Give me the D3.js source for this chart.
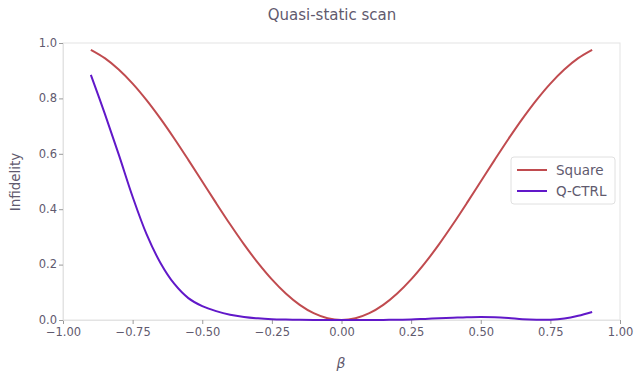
<!DOCTYPE html>
<html><head><meta charset="utf-8">
<script src="https://cdn.jsdelivr.net/npm/d3@7"></script>
<style>
body{margin:0;background:#fff;}
text{font-family:"DejaVu Sans",sans-serif;}
</style></head>
<body><svg id="c" width="640" height="380"></svg>
<script>
const beta = [-0.9,-0.85,-0.8,-0.75,-0.7,-0.65,-0.6,-0.55,-0.5,-0.45,-0.4,-0.35,-0.3,-0.25,-0.2,-0.15,-0.1,-0.05,0,
  0.05,0.1,0.15,0.2,0.25,0.3,0.35,0.4,0.45,0.5,0.55,0.6,0.65,0.7,0.75,0.8,0.85,0.9];
const square = [0.9755,0.9455,0.9045,0.8536,0.7939,0.727,0.6545,0.5782,0.5,0.4218,0.3455,0.273,0.2061,0.1464,0.0955,0.0545,0.0245,0.0062,0,
  0.0062,0.0245,0.0545,0.0955,0.1464,0.2061,0.273,0.3455,0.4218,0.5,0.5782,0.6545,0.727,0.7939,0.8536,0.9045,0.9455,0.9755];
const qctrl = [0.885,0.745,0.598,0.445,0.31,0.206,0.13,0.079,0.05,0.032,0.019,0.011,0.006,0.003,0.0015,0.0005,0.0001,0,0,
  0,0.0001,0.0004,0.001,0.002,0.004,0.006,0.008,0.010,0.011,0.010,0.007,0.003,0.001,0.0008,0.005,0.015,0.029];
const seriesNames = ["Square","Q-CTRL"];
const seriesColors = ["#c04b4f","#6118c9"];
const xTicks = [-1,-0.75,-0.5,-0.25,0,0.25,0.5,0.75,1];
const yTicks = [0,0.2,0.4,0.6,0.8,1.0];

const svg = d3.select("#c");
const L=63,R=620,T=43,B=320;
const x = d3.scaleLinear().domain([-1,1]).range([L,R]);
const y = d3.scaleLinear().domain([0,1]).range([B,T]);
const textCol = "#5f5a6e", gridCol="#e3e3e3", tickCol="#9a9a9a";

// frame
svg.append("rect").attr("x",L).attr("y",T).attr("width",R-L).attr("height",B-T)
  .attr("fill","none").attr("stroke",gridCol).attr("stroke-width",1);

const xa = svg.append("g").attr("transform",`translate(0,${B})`)
  .call(d3.axisBottom(x).tickValues(xTicks).tickFormat(d3.format(".2f")).tickSize(4).tickPadding(3.5));
const ya = svg.append("g").attr("transform",`translate(${L},0)`)
  .call(d3.axisLeft(y).tickValues(yTicks).tickFormat(d3.format(".1f")).tickSize(4).tickPadding(2));
[xa,ya].forEach(a=>{
  a.select(".domain").attr("stroke",gridCol);
  a.selectAll(".tick line").attr("stroke",tickCol);
  a.selectAll(".tick text").attr("fill",textCol).attr("font-size",11.5);
});
ya.selectAll(".tick text").attr("dy","0.28em");

const data = [square,qctrl];
const line = d3.line().x((d,i)=>x(beta[i])).y(d=>y(d)).curve(d3.curveCatmullRom.alpha(0.5));
data.forEach((s,k)=>{
  svg.append("path").datum(s).attr("d",line).attr("fill","none")
    .attr("stroke",seriesColors[k]).attr("stroke-width",2);
});

svg.append("text").attr("x",332).attr("y",20).attr("text-anchor","middle")
  .attr("font-size",15).attr("fill",textCol).text("Quasi-static scan");
svg.append("text").attr("transform","translate(20,182) rotate(-90)").attr("text-anchor","middle")
  .attr("font-size",13.5).attr("fill",textCol).text("Infidelity");
svg.append("text").attr("x",341).attr("y",368).attr("text-anchor","middle")
  .attr("font-size",14).attr("font-style","italic").attr("fill",textCol).text("β");

// legend
const lg = svg.append("g").attr("transform","translate(511,157)");
lg.append("rect").attr("width",104).attr("height",47).attr("rx",3)
  .attr("fill","#fff").attr("stroke","#e0e0e0");
seriesNames.forEach((n,i)=>{
  lg.append("line").attr("x1",6).attr("x2",36).attr("y1",13+i*21).attr("y2",13+i*21)
    .attr("stroke",seriesColors[i]).attr("stroke-width",2);
  lg.append("text").attr("x",45).attr("y",18+i*21).attr("font-size",13.5)
    .attr("fill",textCol).text(n);
});
</script></body></html>
